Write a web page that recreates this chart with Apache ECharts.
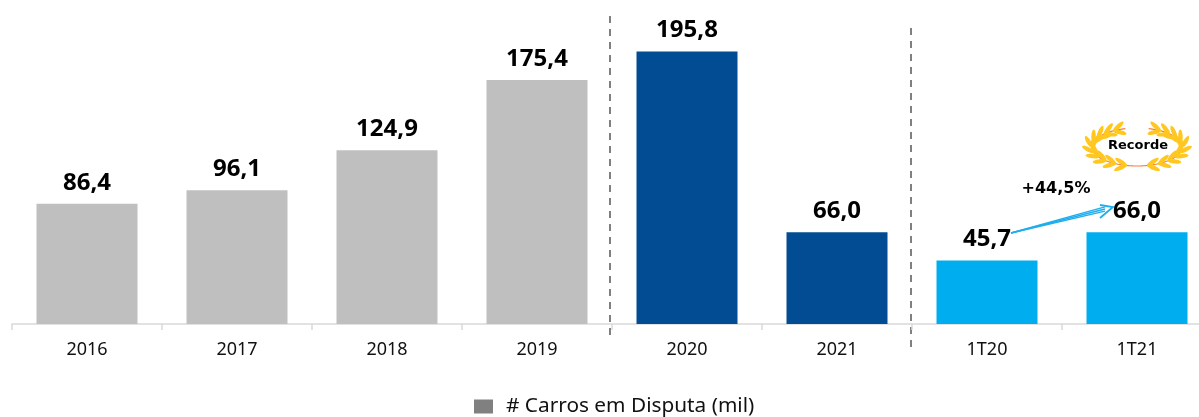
<!DOCTYPE html>
<html>
<head>
<meta charset="utf-8">
<style>
  html, body { margin: 0; padding: 0; background: #fff; }
  #chart { width: 1199px; height: 417px; }
</style>
<script src="https://cdn.jsdelivr.net/npm/echarts@6/dist/echarts.min.js"></script>
</head>
<body>
<div id="chart"></div>
<script>
const categories = ['2016', '2017', '2018', '2019', '2020', '2021', '1T20', '1T21'];
const values = [86.4, 96.1, 124.9, 175.4, 195.8, 66.0, 45.7, 66.0];
const barColors = ['#BFBFBF', '#BFBFBF', '#BFBFBF', '#BFBFBF', '#014C92', '#014C92', '#00AEEF', '#00AEEF'];
const seriesName = '# Carros em Disputa (mil)';
const growthLabel = '+44,5%';
const recordLabel = 'Recorde';

const font = '"Noto Sans", sans-serif';
const wideFont = '"DejaVu Sans", sans-serif';

// coroa de louros atras do texto "Recorde"
function laurel(cx, cy) {
  const items = [];
  const rx = 45, ry = 19;
  [-1, 1].forEach(side => {
    const pts = [];
    for (let a = 0; a <= 165; a += 5) {
      const r = a * Math.PI / 180;
      pts.push([cx + side * rx * Math.sin(r), cy + ry * Math.cos(r) + 2]);
    }
    items.push({
      type: 'polyline', silent: true,
      shape: { points: pts },
      style: { stroke: '#F0803C', lineWidth: 1.2, fill: 'none' }
    });
    for (let a = 14; a <= 160; a += 15) {
      const r = a * Math.PI / 180;
      const x = cx + side * rx * Math.sin(r);
      const y = cy + ry * Math.cos(r) + 2;
      const tan = Math.atan2(-ry * Math.sin(r), side * rx * Math.cos(r));
      [-0.5, 0.5].forEach(off => {
        const ang = tan + off;
        items.push({
          type: 'ellipse', silent: true,
          x: x + Math.cos(ang) * 6,
          y: y + Math.sin(ang) * 6,
          rotation: -ang,
          shape: { cx: 0, cy: 0, rx: 7, ry: 2.2 },
          style: { fill: '#FFC71F' }
        });
      });
    }
  });
  return items;
}

function growthArrow(x1, y1, x2, y2) {
  const color = '#1FAEEE';
  const lines = [];
  [[-2.2, 1.3], [0, 1.5], [2.2, 1.3]].forEach(([shift, w]) => {
    lines.push({
      type: 'line', silent: true,
      shape: { x1: x1, y1: y1, x2: x2 - 8, y2: y2 + 2 + shift },
      style: { stroke: color, lineWidth: w }
    });
  });
  lines.push({
    type: 'polyline', silent: true,
    shape: { points: [[x2 - 13, y2 - 2], [x2, y2], [x2 - 13, y2 + 11]] },
    style: { stroke: color, lineWidth: 1.8, fill: 'none' }
  });
  return lines;
}

function divider(x, y1, y2) {
  return {
    type: 'line', silent: true,
    shape: { x1: x, y1: y1, x2: x, y2: y2 },
    style: { stroke: '#808080', lineWidth: 2, lineDash: [7, 6] }
  };
}

const myChart = echarts.init(document.getElementById('chart'), null, { renderer: 'canvas' });

myChart.setOption({
  animation: false,
  backgroundColor: '#fff',
  grid: { left: 12, top: 4, width: 1200, height: 320, outerBoundsMode: 'none' },
  legend: {
    data: [seriesName],
    left: 469,
    top: 391,
    itemWidth: 19,
    itemHeight: 14,
    icon: 'rect',
    textStyle: { fontFamily: font, fontSize: 20.8, color: '#111', padding: [0, 0, 0, 8] }
  },
  xAxis: {
    type: 'category',
    data: categories,
    axisLine: { lineStyle: { color: '#D9D9D9', width: 1.5 } },
    axisTick: { show: true, length: 6, lineStyle: { color: '#D9D9D9', width: 1.5 } },
    axisLabel: { fontFamily: font, fontSize: 18, color: '#111', margin: 17, interval: 0 }
  },
  yAxis: { type: 'value', min: 0, max: 230, show: false },
  series: [{
    name: seriesName,
    type: 'bar',
    barWidth: 101,
    itemStyle: { color: '#808080' },
    data: values.map((v, i) => ({ value: v, itemStyle: { color: barColors[i] } })),
    label: {
      show: true,
      position: 'top',
      distance: 9,
      fontFamily: font,
      fontWeight: 'bold',
      fontSize: 24,
      color: '#000',
      formatter: p => p.value.toFixed(1).replace('.', ',')
    }
  }],
  graphic: [
    divider(610, 16, 338),
    divider(911, 28, 350),
    ...laurel(1137, 145),
    {
      type: 'text', silent: true, x: 1138, y: 146,
      style: { text: recordLabel, fontFamily: wideFont, fontWeight: 'bold', fontSize: 13, fill: '#000', align: 'center', verticalAlign: 'middle' }
    },
    {
      type: 'text', silent: true, x: 1056, y: 189,
      style: { text: growthLabel, fontFamily: wideFont, fontWeight: 'bold', fontSize: 16, fill: '#000', align: 'center', verticalAlign: 'middle' }
    },
    ...growthArrow(1011, 233, 1113, 207)
  ]
});
</script>
</body>
</html>
